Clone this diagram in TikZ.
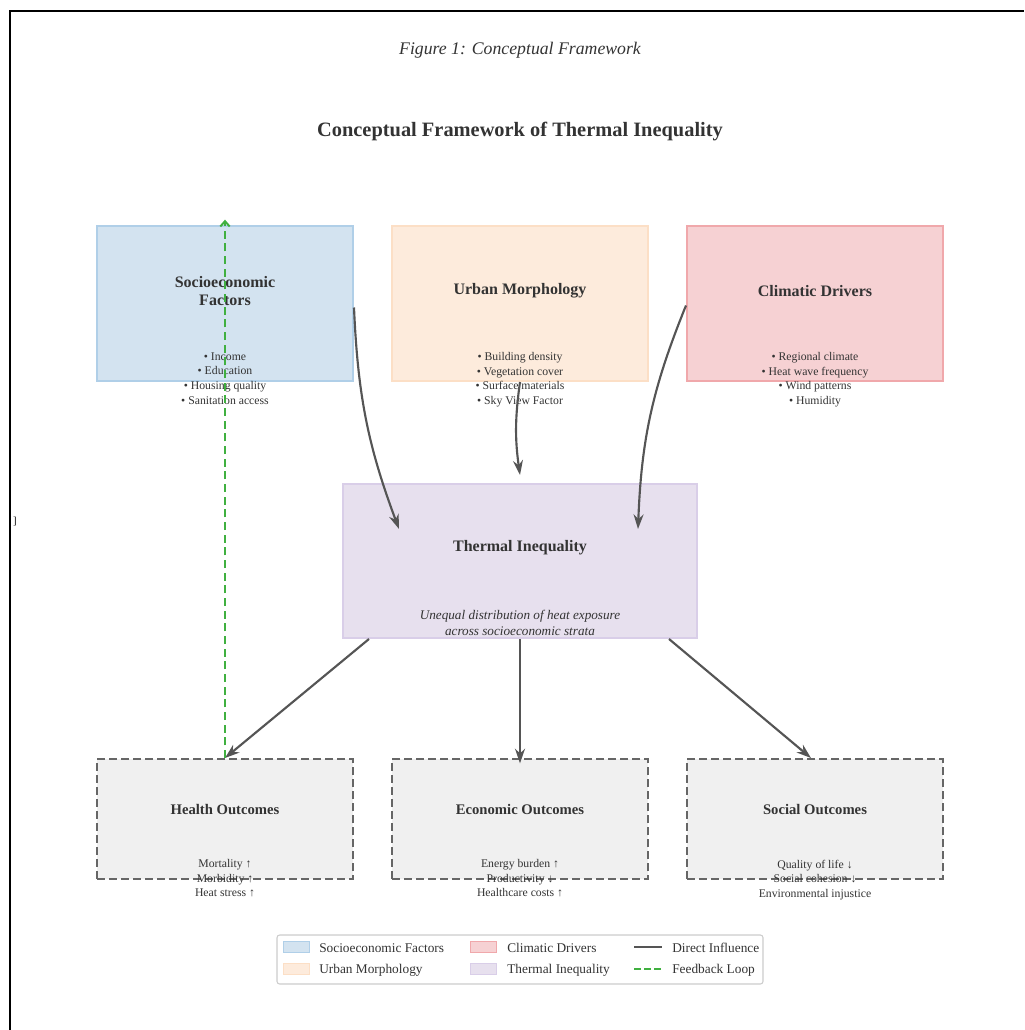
\documentclass[tikz,border=0pt]{standalone}
\usepackage{fontspec}
\setmainfont{Liberation Serif}
\usetikzlibrary{arrows.meta,calc}

\definecolor{socfill}{HTML}{D3E3F0}
\definecolor{socline}{HTML}{B0CFE8}
\definecolor{urbfill}{HTML}{FDEBDC}
\definecolor{urbline}{HTML}{FCDFC6}
\definecolor{clifill}{HTML}{F6D1D3}
\definecolor{cliline}{HTML}{F0A8AB}
\definecolor{thefill}{HTML}{E7E0EE}
\definecolor{theline}{HTML}{D9CEE8}
\definecolor{outfill}{HTML}{F0F0F0}
\definecolor{outline}{HTML}{666666}
\definecolor{arrowgray}{HTML}{555555}
\definecolor{fbgreen}{HTML}{40B040}
\definecolor{inkgray}{HTML}{333333}
\definecolor{legline}{HTML}{CCCCCC}

\begin{document}
\begin{tikzpicture}[x=0.75pt,y=-0.75pt,
  factorbox/.style={draw=#1line,fill=#1fill,line width=1.5pt,minimum width=192pt,minimum height=116.25pt,inner sep=0pt},
  outbox/.style={draw=outline,fill=outfill,line width=1.5pt,dash pattern=on 6pt off 3pt,minimum width=192pt,minimum height=90pt,inner sep=0pt},
  head/.style={font=\bfseries\fontsize{12}{13.5}\selectfont,text=inkgray,align=center},
  subhead/.style={font=\bfseries\fontsize{11}{13}\selectfont,text=inkgray,align=center},
  items/.style={font=\fontsize{8.8}{10.9}\selectfont,text=inkgray,align=center,anchor=north,inner sep=0pt},
  influence/.style={draw=arrowgray,line width=1.6pt,-{Stealth[length=11pt,width=7.5pt]}},
  feedback/.style={draw=fbgreen,line width=1.5pt,dash pattern=on 6pt off 3.5pt,-{Straight Barb[length=4pt,width=7pt]}},
  legtext/.style={font=\fontsize{10}{12}\selectfont,text=inkgray,anchor=west,inner sep=0pt},
  legpatch/.style={draw=#1line,fill=#1fill,line width=0.6pt,minimum width=19.5pt,minimum height=8.25pt,inner sep=0pt},
]
\useasboundingbox (0,0) rectangle (1024,1030);
% frame and stray mark
\draw[line width=1.5pt] (10,1030) -- (10,11) -- (1024,11);
\node[font=\fontsize{8}{9}\selectfont,inner sep=0pt] (mark) at (15,522) {]};

% captions
\node[font=\itshape\fontsize{13.3}{15}\selectfont,text=inkgray] (caption) at (520,50) {Figure 1: Conceptual Framework};
\node[font=\bfseries\fontsize{15.3}{18}\selectfont,text=inkgray] (title) at (520,132) {Conceptual Framework of Thermal Inequality};

% drivers
\node[factorbox=soc] (socio) at (225,303.5) {};
\node[factorbox=urb] (urban) at (520,303.5) {};
\node[factorbox=cli] (clim) at (815,303.5) {};
\node[head] (sociot) at (225,291) {Socioeconomic\\Factors};
\node[head] (urbant) at (520,291) {Urban Morphology};
\node[head] (climt) at (815,291) {Climatic Drivers};
\node[items] (sociol) at (225,352.5) {• Income\\• Education\\• Housing quality\\• Sanitation access};
\node[items] (urbanl) at (520,352.5) {• Building density\\• Vegetation cover\\• Surface materials\\• Sky View Factor};
\node[items] (climl) at (815,352.5) {• Regional climate\\• Heat wave frequency\\• Wind patterns\\• Humidity};

% central node
\node[factorbox=the,minimum width=265.5pt,minimum height=115.5pt] (therm) at (520,561) {};
\node[head] (thermt) at (520,548) {Thermal Inequality};
\node[items,font=\itshape\fontsize{9.9}{12}\selectfont] (therml) at (520,610) {Unequal distribution of heat exposure\\across socioeconomic strata};

% outcomes
\node[outbox] (health) at (225,819) {};
\node[outbox] (econ) at (520,819) {};
\node[outbox] (social) at (815,819) {};
\node[subhead] (healtht) at (225,809) {Health Outcomes};
\node[subhead] (econt) at (520,809) {Economic Outcomes};
\node[subhead] (socialt) at (815,809) {Social Outcomes};
\node[items] (healthl) at (225,859.5) {Mortality ↑\\Morbidity ↑\\Heat stress ↑};
\node[items] (econl) at (520,859.5) {Energy burden ↑\\Productivity ↓\\Healthcare costs ↑};
\node[items] (sociall) at (815,859.5) {Quality of life ↓\\Social cohesion ↓\\Environmental injustice};

% arrow ends
\coordinate (socio-out) at ($(socio.east)+(0,4)$);
\coordinate (clim-out) at ($(clim.west)+(0,2)$);
\coordinate (thin-w) at ($(therm.north west)+(57,46)$);
\coordinate (thin-e) at ($(therm.north east)+(-60,46)$);
\coordinate (thout-w) at ($(therm.south west)+(27,0)$);
\coordinate (thout-e) at ($(therm.south east)+(-29,0)$);
\coordinate (social-in) at ($(social.north)+(-4,0)$);

% influences
\draw[influence] (socio-out) to[bend right=9] (thin-w);
\draw[influence] (urban.south) to[bend right=8] ([yshift=6]therm.north);
\draw[influence] (clim-out) to[bend right=10] (thin-e);
\draw[influence] (thout-w) -- (health.north);
\draw[influence] (therm.south) -- ([yshift=-4]econ.north);
\draw[influence] (thout-e) -- (social-in);
\draw[feedback] (health.north) -- ([yshift=4]socio.north);

% legend
\node[draw=legline,fill=white,rounded corners=2pt,line width=0.8pt,minimum width=364.5pt,minimum height=36.75pt,inner sep=0pt] (legend) at (520,959.5) {};
\node[legpatch=soc] (lg1) at (296,946.5) {};
\node[legpatch=urb] (lg2) at (296,968.5) {};
\node[legpatch=cli] (lg3) at (483,946.5) {};
\node[legpatch=the] (lg4) at (483,968.5) {};
\coordinate (lg5a) at (634,946.5);
\coordinate (lg5b) at (662,946.5);
\coordinate (lg6a) at (634,968.5);
\coordinate (lg6b) at (662,968.5);
\draw[arrowgray,line width=1.5pt] (lg5a) -- (lg5b);
\draw[fbgreen,line width=1.5pt,dash pattern=on 5pt off 2.5pt] (lg6a) -- (lg6b);
\node[legtext] (lt1) at (319,948) {Socioeconomic Factors};
\node[legtext] (lt2) at (319,970) {Urban Morphology};
\node[legtext] (lt3) at (507,948) {Climatic Drivers};
\node[legtext] (lt4) at (507,970) {Thermal Inequality};
\node[legtext] (lt5) at (672,948) {Direct Influence};
\node[legtext] (lt6) at (672,970) {Feedback Loop};
\end{tikzpicture}
\end{document}
